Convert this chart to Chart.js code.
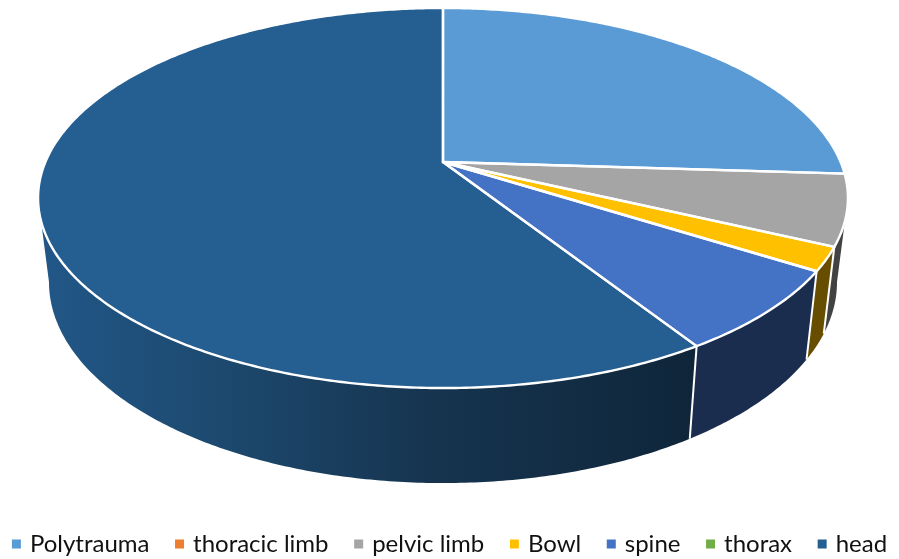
<!DOCTYPE html>
<html>
<head>
<meta charset="utf-8">
<style>
  html, body { margin: 0; padding: 0; background: #fff; }
  #wrap { width: 899px; height: 559px; }
</style>
<script src="https://cdn.jsdelivr.net/npm/chart.js@4"></script>
</head>
<body>
<div id="wrap"><canvas id="chart" width="899" height="559"></canvas></div>
<script>
const categories = ['Polytrauma', 'thoracic limb', 'pelvic limb', 'Bowl', 'spine', 'thorax', 'head'];
const shares = [26, 0, 6, 2, 7, 0, 59];
const topColors = ['#5B9BD5', '#ED7D31', '#A5A5A5', '#FFC000', '#4472C4', '#70AD47', '#255E91'];
const wallColors = ['#244061', '#5F3214', '#424242', '#664D00', '#1B2D4E', '#2D451C', null];

// Disc geometry: a circle seen in perspective, plus the rim of its underside.
const disc = {
  cx: 443, cy: 162,
  rx: 397.6, ry: 183.2, tilt: 0.1895,
  ellipseY: 198,
  lowerScaleX: 0.973, lowerScaleY: 1.058, lowerY: 282
};
// Angles where the top rim turns away from the viewer; only the arc between them shows a wall.
const frontFrom = Math.asin(disc.tilt);
const frontTo = Math.PI - frontFrom;

function projectTop(angle) {
  const u = Math.cos(angle), v = Math.sin(angle);
  const w = 1 - disc.tilt * v;
  return { x: disc.cx + disc.rx * u / w, y: disc.cy + disc.ry * v / w };
}
function projectBottom(angle) {
  const t = projectTop(angle);
  return {
    x: disc.cx + disc.lowerScaleX * (t.x - disc.cx),
    y: disc.lowerY + disc.lowerScaleY * (t.y - disc.ellipseY)
  };
}
function arcPoints(project, from, to) {
  const n = Math.max(2, Math.ceil(Math.abs(to - from) / 0.01));
  const pts = [];
  for (let i = 0; i <= n; i++) pts.push(project(from + (to - from) * i / n));
  return pts;
}
function trace(ctx, pts, start) {
  pts.forEach((p, i) => {
    if (i === 0 && start) ctx.moveTo(p.x, p.y); else ctx.lineTo(p.x, p.y);
  });
}

// The head wall darkens from left to right as the light falls off.
function headWallFill(ctx) {
  const g = ctx.createLinearGradient(49, 0, 690, 0);
  g.addColorStop(0, '#215686');
  g.addColorStop(0.25, '#1D4A70');
  g.addColorStop(0.6, '#16344F');
  g.addColorStop(1, '#0F263A');
  return g;
}

const perspectivePie = {
  id: 'perspectivePie',
  // Keep the legend on one row even though its spacing slightly exceeds the wrap limit.
  beforeLayout(chart) {
    const legend = chart.legend;
    if (!legend || legend.__oneRow) return;
    const update = legend.update;
    legend.update = function (w, h, margins) {
      update.call(this, w + 80, h, margins);
      this.maxWidth = w;
      this.width = w;
    };
    legend.__oneRow = true;
  },
  beforeDraw(chart) {
    chart.legend.left = -40;
    chart.legend.right = chart.width + 43;
  },
  beforeDatasetsDraw(chart) {
    const ctx = chart.ctx;
    const arcs = chart.getDatasetMeta(0).data
      .map((el, i) => ({ index: i, start: el.startAngle, end: el.endAngle }))
      .filter(a => a.end - a.start > 1e-6);

    ctx.save();
    ctx.lineJoin = 'round';

    // Outer walls first; the top face paints over whatever lies behind it.
    arcs.forEach(a => {
      const from = Math.max(a.start, frontFrom);
      const to = Math.min(a.end, frontTo);
      if (to <= from) return;
      const upper = arcPoints(projectTop, from, to);
      const lower = arcPoints(projectBottom, to, from);
      ctx.beginPath();
      trace(ctx, upper, true);
      trace(ctx, lower, false);
      ctx.closePath();
      ctx.fillStyle = wallColors[a.index] || headWallFill(ctx);
      ctx.fill();
    });

    // Seams between neighbouring walls.
    ctx.strokeStyle = '#fff';
    ctx.lineWidth = 2;
    arcs.forEach(a => {
      if (a.start <= frontFrom || a.start >= frontTo) return;
      const t = projectTop(a.start), b = projectBottom(a.start);
      ctx.beginPath();
      ctx.moveTo(t.x, t.y);
      ctx.lineTo(b.x, b.y);
      ctx.stroke();
    });

    // Top face.
    ctx.lineWidth = 2.4;
    arcs.forEach(a => {
      ctx.beginPath();
      ctx.moveTo(disc.cx, disc.cy);
      trace(ctx, arcPoints(projectTop, a.start, a.end), false);
      ctx.closePath();
      ctx.fillStyle = topColors[a.index];
      ctx.fill();
    });
    arcs.forEach(a => {
      ctx.beginPath();
      ctx.moveTo(disc.cx, disc.cy);
      trace(ctx, arcPoints(projectTop, a.start, a.end), false);
      ctx.closePath();
      ctx.stroke();
    });

    ctx.restore();
    return false;
  }
};

new Chart(document.getElementById('chart'), {
  type: 'pie',
  data: {
    labels: categories,
    datasets: [{ data: shares, backgroundColor: topColors, borderColor: '#fff' }]
  },
  plugins: [perspectivePie],
  options: {
    responsive: false,
    animation: false,
    layout: { padding: { bottom: -7 } },
    plugins: {
      tooltip: { enabled: false },
      legend: {
        position: 'bottom',
        labels: {
          boxWidth: 3,
          boxHeight: 3,
          padding: 28.6,
          color: '#111111',
          font: { family: 'Lato', size: 24 },
          generateLabels(chart) {
            return Chart.overrides.pie.plugins.legend.labels.generateLabels(chart).map(item => ({
              ...item, strokeStyle: item.fillStyle, lineWidth: 6
            }));
          }
        }
      }
    }
  }
});
</script>
</body>
</html>
